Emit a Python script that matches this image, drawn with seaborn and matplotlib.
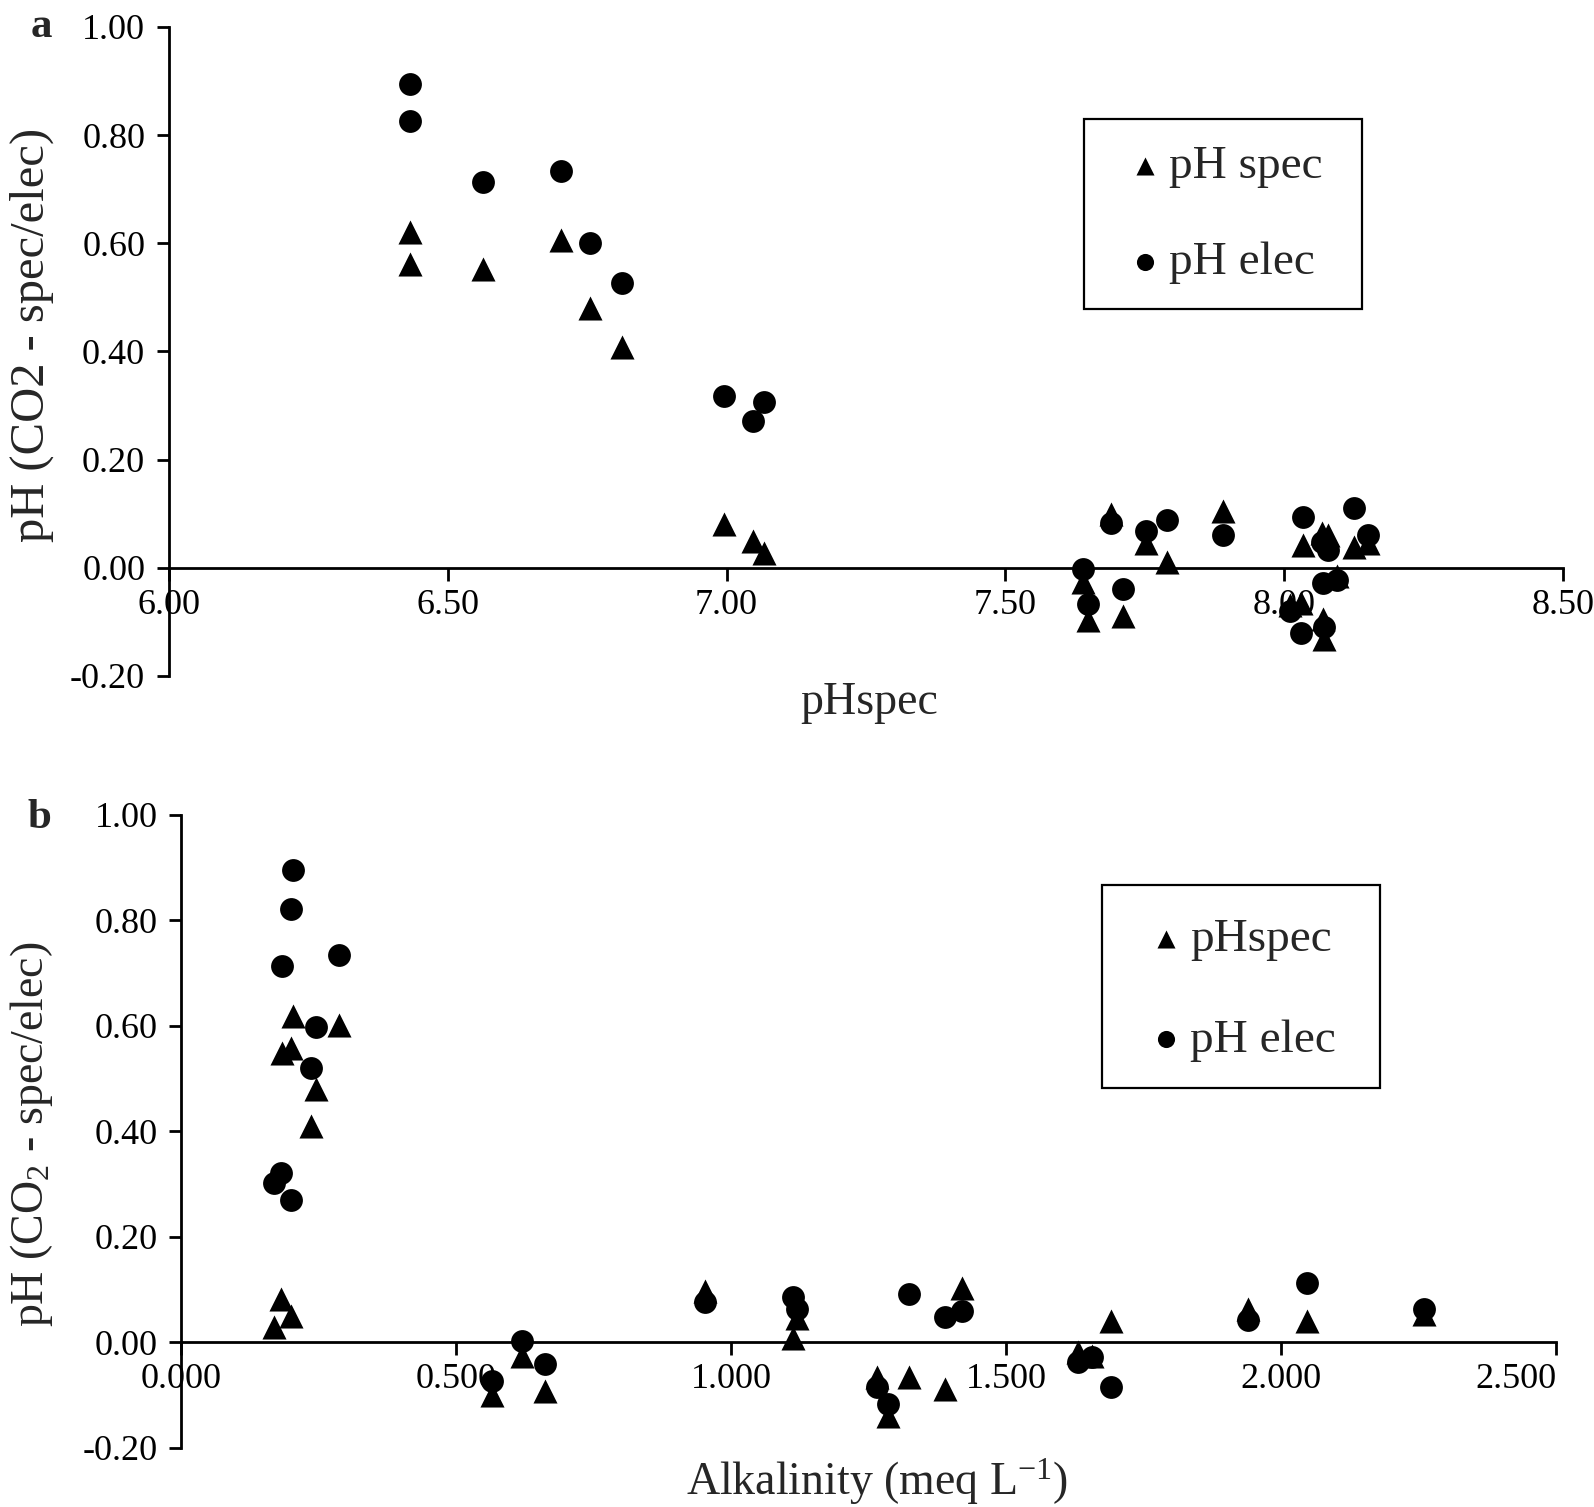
"""
Verschil pH (CO2 - spec/elec) tegen pHspec (a) en alkaliniteit (b).
"""

import numpy as np
import matplotlib
matplotlib.use("Agg")
import matplotlib.pyplot as plt
from matplotlib.patches import Rectangle
from matplotlib.ticker import FormatStrFormatter
import seaborn as sns

# --- panel a: pHspec ---
ph_spec_a = [6.432, 6.432, 6.564, 6.703, 6.755, 6.813, 6.995, 7.048, 7.068,
             7.639, 7.648, 7.690, 7.711, 7.753, 7.789, 7.890, 8.033, 8.067,
             8.079, 8.125, 8.150, 8.010, 8.030, 8.070, 8.072, 8.095]
spec_a = [0.620, 0.562, 0.553, 0.605, 0.480, 0.408, 0.081, 0.049, 0.028,
          -0.026, -0.097, 0.100, -0.090, 0.045, 0.011, 0.104, 0.042, 0.065,
          0.060, 0.039, 0.045, -0.069, -0.066, -0.094, -0.131, -0.015]
elec_a = [0.895, 0.825, 0.714, 0.733, 0.600, 0.526, 0.318, 0.271, 0.306,
          -0.003, -0.068, 0.083, -0.040, 0.067, 0.088, 0.060, 0.094, 0.048,
          0.033, 0.110, 0.060, -0.080, -0.121, -0.029, -0.110, -0.023]

# --- panel b: alkaliniteit ---
alk_b = [0.203, 0.199, 0.184, 0.288, 0.246, 0.236, 0.182, 0.199, 0.169,
         0.566, 0.619, 0.661, 0.953, 1.113, 1.119, 1.266, 1.285, 1.323,
         1.389, 1.420, 1.631, 1.656, 1.691, 1.940, 2.048, 2.260]
spec_b = [0.618, 0.558, 0.548, 0.602, 0.480, 0.410, 0.083, 0.050, 0.030,
          -0.100, -0.025, -0.092, 0.098, 0.009, 0.047, -0.066, -0.139, -0.066,
          -0.088, 0.104, -0.019, -0.025, 0.041, 0.064, 0.040, 0.054]
elec_b = [0.895, 0.822, 0.713, 0.735, 0.598, 0.520, 0.321, 0.270, 0.302,
          -0.073, 0.003, -0.040, 0.076, 0.087, 0.063, -0.085, -0.117, 0.092,
          0.049, 0.060, -0.038, -0.028, -0.085, 0.042, 0.112, 0.064]

y_ticks = [-0.2, 0.0, 0.2, 0.4, 0.6, 0.8, 1.0]
x_ticks_a = [6.0, 6.5, 7.0, 7.5, 8.0, 8.5]
x_ticks_b = [0.0, 0.5, 1.0, 1.5, 2.0, 2.5]

sns.set_style("white")
plt.rcParams["font.family"] = ["Liberation Serif", "DejaVu Serif"]
plt.rcParams["mathtext.fontset"] = "custom"
plt.rcParams["mathtext.rm"] = "Liberation Serif"
plt.rcParams["mathtext.it"] = "Liberation Serif:italic"

FS = 26
W, H = 1594, 1507
fig = plt.figure(figsize=(W / 100, H / 100), dpi=100)
ax_a = fig.add_axes([0.1059, 0.5515, 0.8747, 0.4307])
ax_b = fig.add_axes([0.1136, 0.0392, 0.8626, 0.4200])


def style_axes(ax, xticks, xfmt):
    ax.set_ylim(-0.2, 1.0)
    ax.set_xlim(xticks[0], xticks[-1])
    ax.set_yticks(y_ticks)
    ax.set_xticks(xticks)
    ax.yaxis.set_major_formatter(FormatStrFormatter("%.2f"))
    ax.xaxis.set_major_formatter(FormatStrFormatter(xfmt))
    ax.spines[["top", "right"]].set_visible(False)
    ax.spines["bottom"].set_position(("data", 0))
    for s in ["left", "bottom"]:
        ax.spines[s].set_linewidth(2)
        ax.spines[s].set_color("black")
    ax.tick_params(axis="both", direction="out", length=9, width=2,
                   labelsize=FS, colors="black", left=True, bottom=True)
    ax.tick_params(axis="x", pad=6)
    ax.tick_params(axis="y", pad=8)


def draw(ax, x, spec, elec, lab_spec):
    sns.scatterplot(x=x, y=spec, marker="^", color="black", s=300,
                    linewidth=0, ax=ax, label=lab_spec, zorder=3)
    sns.scatterplot(x=x, y=elec, marker="o", color="black", s=270,
                    linewidth=0, ax=ax, label="pH elec", zorder=3)


def legend_box(ax, box, anchor, spacing):
    # kader los tekenen (pixels vanaf linksboven), legenda zonder kader erin
    x0, y0, x1, y1 = box
    fig.patches.append(Rectangle((x0 / W, 1 - y1 / H), (x1 - x0) / W,
                                 (y1 - y0) / H, transform=fig.transFigure,
                                 fill=False, edgecolor="black", linewidth=1.6))
    ax.legend(loc="upper left", bbox_to_anchor=(anchor[0] / W, 1 - anchor[1] / H),
              bbox_transform=fig.transFigure, fontsize=34, frameon=False,
              markerscale=0.75, handlelength=0.6, handletextpad=0.21,
              borderpad=0, labelspacing=spacing, borderaxespad=0)


draw(ax_a, ph_spec_a, spec_a, elec_a, "pH spec")
draw(ax_b, alk_b, spec_b, elec_b, "pHspec")

style_axes(ax_a, x_ticks_a, "%.2f")
style_axes(ax_b, x_ticks_b, "%.3f")

# laatste label van panel b niet laten afsnijden
fig.canvas.draw()
ax_b.get_xticklabels()[-1].set_horizontalalignment("right")

ax_a.set_xlabel("pHspec", fontsize=33)
ax_a.xaxis.set_label_coords(0.502, -0.008)
ax_a.set_ylabel("pH (CO2 - spec/elec)", fontsize=35)
ax_a.yaxis.set_label_coords(-0.082, 0.526)

ax_b.set_xlabel("Alkalinity (meq L$^{-1}$)", fontsize=33)
ax_b.xaxis.set_label_coords(0.506, -0.013)
ax_b.set_ylabel("pH (CO$_2$ - spec/elec)", fontsize=33)
ax_b.yaxis.set_label_coords(-0.092, 0.496)

legend_box(ax_a, (1084, 119, 1362, 309), (1131, 145), 1.13)
legend_box(ax_b, (1102, 885, 1380, 1088), (1152, 918), 1.22)

fig.text(41 / W, 1 - 27 / H, "a", fontsize=31, fontweight="bold",
         ha="center", va="center")
fig.text(39 / W, 1 - 818 / H, "b", fontsize=31, fontweight="bold",
         ha="center", va="center")

plt.savefig("out.png", dpi=100)
plt.close()
